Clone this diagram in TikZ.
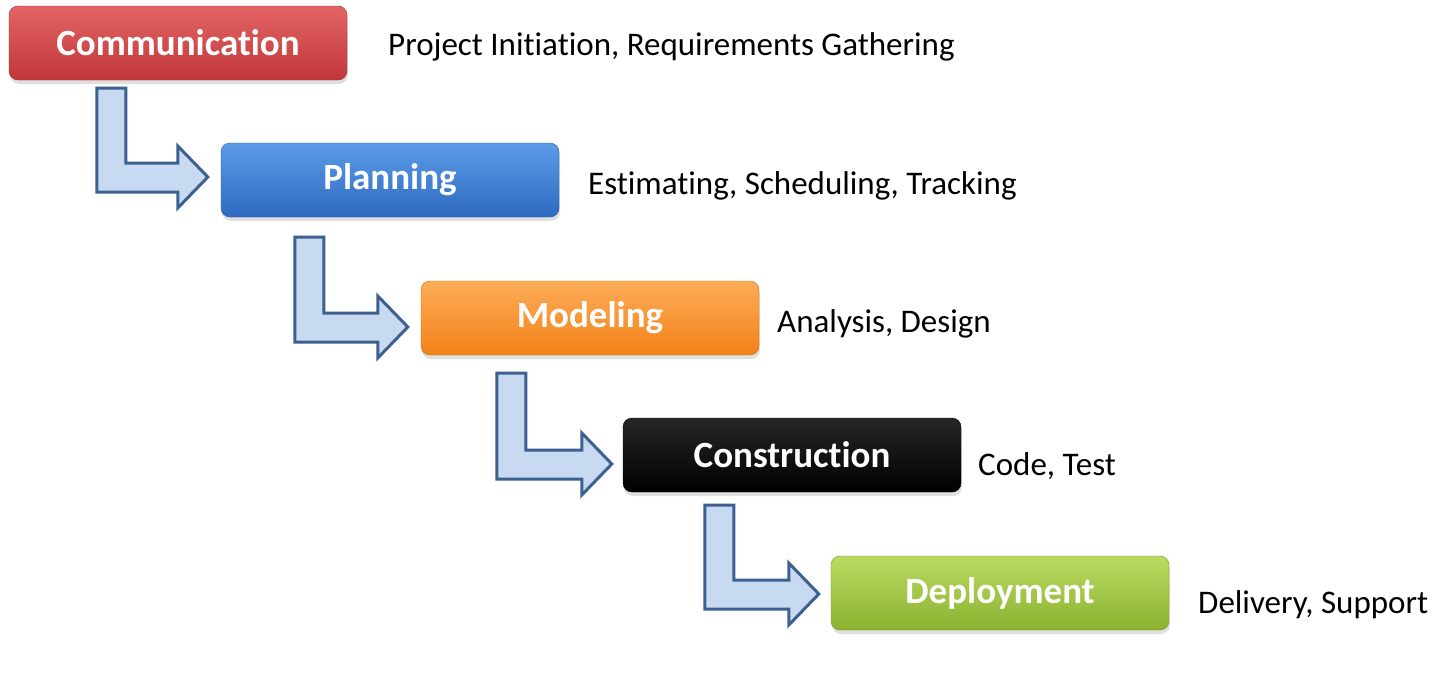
\documentclass[tikz,border=0pt]{standalone}
\usepackage{fontspec}
\setmainfont{Carlito}[Ligatures=NoCommon]
\usetikzlibrary{calc,shadows}

\definecolor{commtop}{HTML}{E46464}
\definecolor{commbot}{HTML}{C0373A}
\definecolor{plantop}{HTML}{5C9BE8}
\definecolor{planbot}{HTML}{2E6AC0}
\definecolor{modtop}{HTML}{FDAC58}
\definecolor{modbot}{HTML}{F28218}
\definecolor{contop}{HTML}{262626}
\definecolor{conbot}{HTML}{000000}
\definecolor{deptop}{HTML}{BADB62}
\definecolor{depbot}{HTML}{8BB230}
\definecolor{arrfill}{HTML}{C8DAF1}
\definecolor{arrline}{HTML}{3C6090}

% bent block arrow: #1 = top-left of the stem, #2 = tip
\newcommand{\bentarrow}[2]{%
  \draw[barr] let \p1=#1, \p2=#2 in
    (\x1,\y1) -- (\x1+29pt,\y1) -- (\x1+29pt,\y2+14pt) -- (\x2-30pt,\y2+14pt)
    -- (\x2-30pt,\y2+31pt) -- (\x2,\y2) -- (\x2-30pt,\y2-31pt)
    -- (\x2-30pt,\y2-15pt) -- (\x1,\y2-15pt) -- cycle;}

\begin{document}
\begin{tikzpicture}[x=1pt, y=-1pt,
  box/.style={rounded corners=9pt, minimum width=338pt, minimum height=74pt,
              inner sep=0pt, text=white, font=\fontsize{37}{44}\selectfont\bfseries,
              drop shadow={shadow xshift=1pt, shadow yshift=-4pt, opacity=0.25}},
  lbl/.style={anchor=west, inner sep=0pt, font=\fontsize{33}{40}\selectfont},
  barr/.style={draw=arrline, fill=arrfill, line width=3pt, line join=miter},
]
\fill[white] (0,0) rectangle (1444,688);
\useasboundingbox (0,0) rectangle (1444,688);

\node[box, draw=commbot!80!black, top color=commtop, bottom color=commbot] (comm) at (178,43) {Communication};
\node[box, draw=planbot!80!black, top color=plantop, bottom color=planbot] (plan) at (390,180) {Planning};
\node[box, draw=modbot!85!black, top color=modtop, bottom color=modbot] (model) at (590,318) {Modeling};
\node[box, draw=black, top color=contop, bottom color=conbot] (constr) at (792,455) {Construction};
\node[box, draw=depbot!85!black, top color=deptop, bottom color=depbot] (deploy) at (1000,593) {Deployment};

\node[lbl] (commtxt) at (388,47) {Project Initiation, Requirements Gathering};
\node[lbl] (plantxt) at (588,186) {Estimating, Scheduling, Tracking};
\node[lbl] (modeltxt) at (777,324) {Analysis, Design};
\node[lbl] (constrtxt) at (978,466) {Code, Test};
\node[lbl] (deploytxt) at (1198,605) {Delivery, Support};

\bentarrow{($(comm.south west)+(88,8)$)}{($(plan.west)+(-13,-3)$)}
\bentarrow{($(plan.south west)+(74,20)$)}{($(model.west)+(-13,9)$)}
\bentarrow{($(model.south west)+(76,18)$)}{($(constr.west)+(-11,9)$)}
\bentarrow{($(constr.south west)+(82,13)$)}{($(deploy.west)+(-12,1)$)}
\end{tikzpicture}
\end{document}
